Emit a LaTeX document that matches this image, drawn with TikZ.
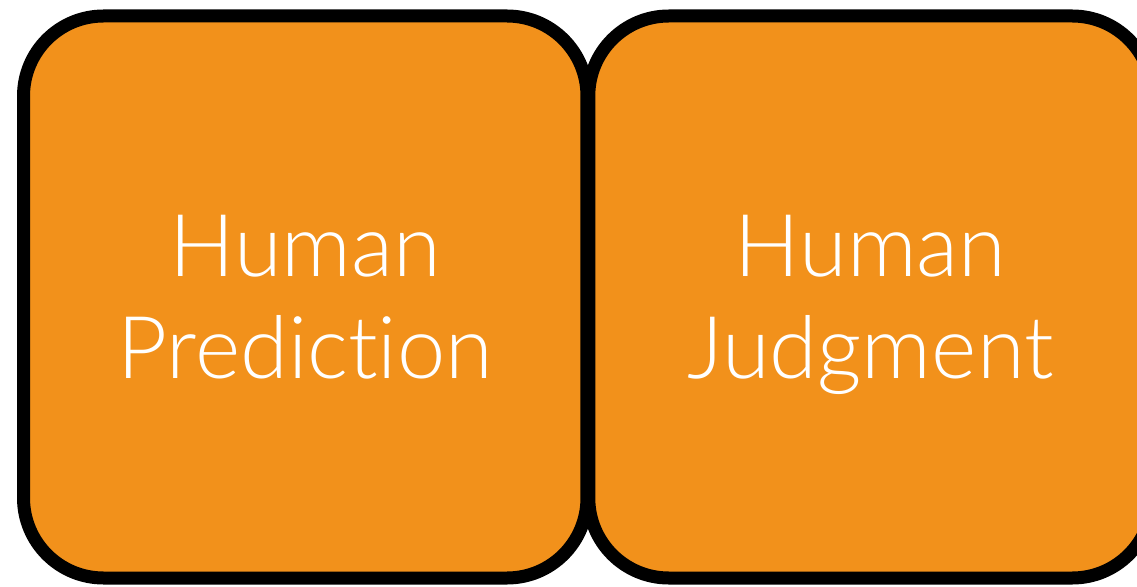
\documentclass[tikz,border=0pt]{standalone}
\usepackage{fontspec}
\newfontfamily\boxfont[Ligatures=NoCommon]{Lato Light}
\usepackage{tikz}
\usetikzlibrary{positioning}
\definecolor{boxorange}{RGB}{242,145,27}
\tikzset{
  humanbox/.style={draw=black, fill=boxorange, line width=9.75pt,
    rounded corners=60pt, minimum width=422.6pt, minimum height=421.5pt,
    text=white, align=center, text depth=0pt,
    font=\boxfont\fontsize{65}{76.5}\selectfont}
}

\begin{document}
\begin{tikzpicture}[x=0.75pt,y=0.75pt]
  \useasboundingbox (0,0) rectangle (1137,586);
  \node[humanbox] (pred) at (305.25,289) {Human\\Prediction};
  \node[humanbox] (judg) at (870.5,289) {Human\\Judgment};
\end{tikzpicture}
\end{document}
